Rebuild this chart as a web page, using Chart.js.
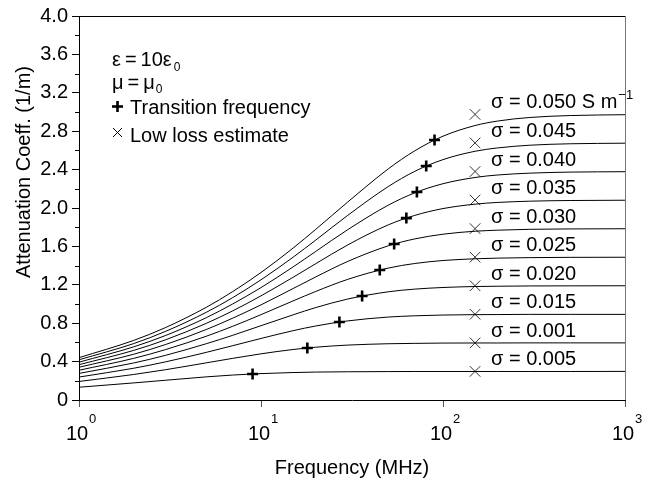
<!DOCTYPE html>
<html>
<head>
<meta charset="utf-8">
<script src="https://cdn.jsdelivr.net/npm/chart.js@4/dist/chart.umd.min.js"></script>
<style>
  html, body { margin: 0; padding: 0; background: #fff; }
</style>
</head>
<body>
<canvas id="chart" width="650" height="485"></canvas>
<script>
var freqs = [1, 2, 3, 5, 7, 10, 15, 20, 30, 50, 70, 100, 150, 200, 300, 500, 1000];

// attenuation coefficient (1/m), one array per conductivity
var alpha005 = [0.133, 0.178, 0.206, 0.241, 0.260, 0.275, 0.286, 0.291, 0.294, 0.296, 0.297, 0.297, 0.297, 0.297, 0.297, 0.297, 0.298];
var alpha010 = [0.193, 0.266, 0.316, 0.387, 0.434, 0.481, 0.526, 0.550, 0.572, 0.586, 0.590, 0.593, 0.594, 0.594, 0.595, 0.595, 0.595];
var alpha015 = [0.239, 0.331, 0.398, 0.496, 0.566, 0.641, 0.722, 0.771, 0.824, 0.864, 0.877, 0.885, 0.889, 0.890, 0.892, 0.892, 0.892];
var alpha020 = [0.277, 0.386, 0.466, 0.586, 0.674, 0.774, 0.887, 0.963, 1.052, 1.127, 1.155, 1.172, 1.182, 1.185, 1.188, 1.189, 1.190];
var alpha025 = [0.310, 0.434, 0.526, 0.664, 0.768, 0.889, 1.032, 1.131, 1.257, 1.374, 1.422, 1.453, 1.471, 1.478, 1.483, 1.486, 1.487];
var alpha030 = [0.341, 0.477, 0.579, 0.734, 0.853, 0.991, 1.161, 1.282, 1.444, 1.606, 1.678, 1.727, 1.758, 1.769, 1.778, 1.782, 1.784];
var alpha035 = [0.368, 0.517, 0.628, 0.798, 0.929, 1.085, 1.278, 1.420, 1.616, 1.824, 1.923, 1.994, 2.040, 2.058, 2.071, 2.078, 2.081];
var alpha040 = [0.394, 0.554, 0.673, 0.857, 1.001, 1.171, 1.386, 1.548, 1.775, 2.029, 2.158, 2.253, 2.318, 2.344, 2.363, 2.374, 2.378];
var alpha045 = [0.419, 0.588, 0.716, 0.913, 1.067, 1.252, 1.487, 1.666, 1.924, 2.223, 2.382, 2.504, 2.591, 2.626, 2.654, 2.669, 2.675];
var alpha050 = [0.441, 0.621, 0.756, 0.965, 1.130, 1.328, 1.582, 1.778, 2.063, 2.407, 2.596, 2.748, 2.859, 2.906, 2.943, 2.963, 2.972];

var sigmaLabels = ['\u03c3 = 0.005', '\u03c3 = 0.001', '\u03c3 = 0.015', '\u03c3 = 0.020', '\u03c3 = 0.025',
  '\u03c3 = 0.030', '\u03c3 = 0.035', '\u03c3 = 0.040', '\u03c3 = 0.045', '\u03c3 = 0.050 S m'];

// transition frequency markers (+)
var transFreq = [8.99, 17.97, 26.96, 35.94, 44.93, 53.91, 62.90, 71.88, 80.87, 89.85];
var transAlpha = [0.271, 0.542, 0.812, 1.083, 1.354, 1.625, 1.895, 2.166, 2.437, 2.708];

// low loss estimate markers (x)
var lowLossFreq = 150;
var lowLossAlpha = [0.298, 0.595, 0.893, 1.190, 1.488, 1.785, 2.083, 2.380, 2.678, 2.975];

var xTicks = [1, 10, 100, 1000];
var xExponents = ['0', '1', '2', '3'];
var yTicks = [0, 0.4, 0.8, 1.2, 1.6, 2.0, 2.4, 2.8, 3.2, 3.6, 4.0];
var yMinor = [0.2, 0.6, 1.0, 1.4, 1.8, 2.2, 2.6, 3.0, 3.4, 3.8];

var FONT = "'Liberation Sans', Arial, Helvetica, sans-serif";
Chart.defaults.font.family = FONT;
Chart.defaults.color = '#000';

function pts(xs, ys) {
  return ys.map(function (y, i) {
    return { x: Array.isArray(xs) ? xs[i] : xs, y: y };
  });
}

var curves = [alpha005, alpha010, alpha015, alpha020, alpha025, alpha030, alpha035, alpha040, alpha045, alpha050];

var datasets = curves.map(function (s) {
  return {
    data: pts(freqs, s),
    borderColor: '#000',
    borderWidth: 1,
    pointRadius: 0,
    cubicInterpolationMode: 'monotone',
    fill: false
  };
});
datasets.push({
  data: pts(transFreq, transAlpha),
  showLine: false,
  pointStyle: 'cross',
  pointRadius: 5.5,
  pointBorderWidth: 2.6,
  pointBorderColor: '#000'
});
datasets.push({
  data: pts(lowLossFreq, lowLossAlpha),
  showLine: false,
  pointStyle: 'crossRot',
  pointRadius: 7.5,
  pointBorderWidth: 1,
  pointBorderColor: '#333'
});

function line(ctx, x1, y1, x2, y2) {
  ctx.beginPath();
  ctx.moveTo(x1, y1);
  ctx.lineTo(x2, y2);
  ctx.stroke();
}

var extras = {
  id: 'extras',
  afterDraw: function (chart) {
    var ctx = chart.ctx, a = chart.chartArea, xs = chart.scales.x, ys = chart.scales.y;
    ctx.save();

    // top and right frame
    ctx.lineWidth = 1;
    ctx.strokeStyle = '#000';
    line(ctx, a.left, a.top + 0.5, a.right, a.top + 0.5);
    ctx.strokeStyle = '#777';
    line(ctx, a.right + 0.5, a.top, a.right + 0.5, a.bottom);

    // minor y ticks
    ctx.strokeStyle = '#000';
    yMinor.forEach(function (v) {
      var y = Math.round(ys.getPixelForValue(v)) + 0.5;
      line(ctx, a.left - 4, y, a.left, y);
    });

    // x tick labels 10^n
    ctx.fillStyle = '#000';
    ctx.textBaseline = 'alphabetic';
    xs.ticks.forEach(function (t, i) {
      var x = xs.getPixelForValue(t.value) - 2;
      ctx.font = '20px ' + FONT;
      ctx.textAlign = 'center';
      ctx.fillText('10', x, 440);
      var w = ctx.measureText('10').width;
      ctx.font = '13px ' + FONT;
      ctx.textAlign = 'left';
      ctx.fillText(xExponents[i], x + w / 2 + 1, 423);
    });

    // y axis title
    ctx.save();
    ctx.translate(24, 172);
    ctx.rotate(-Math.PI / 2);
    ctx.font = '20px ' + FONT;
    ctx.textAlign = 'center';
    ctx.textBaseline = 'middle';
    ctx.fillText('Attenuation Coeff. (1/m)', 0, 0);
    ctx.restore();

    // annotation block
    ctx.textAlign = 'left';
    ctx.textBaseline = 'alphabetic';
    ctx.font = '20px ' + FONT;
    var t1 = '\u03b5\u2009=\u200910\u03b5';
    ctx.fillText(t1, 112, 66);
    var w1 = ctx.measureText(t1).width;
    var t2 = '\u03bc\u2009=\u2009\u03bc';
    ctx.fillText(t2, 112, 89);
    var w2 = ctx.measureText(t2).width;
    ctx.fillText('Transition frequency', 130, 114);
    ctx.fillText('Low loss estimate', 130, 142);
    ctx.font = '12px ' + FONT;
    ctx.fillText('0', 112 + w1 + 2, 71);
    ctx.fillText('0', 112 + w2 + 1, 93);

    ctx.strokeStyle = '#000';
    ctx.lineWidth = 2.6;
    line(ctx, 112, 106.5, 123, 106.5);
    line(ctx, 117.5, 101, 117.5, 112);
    ctx.lineWidth = 1;
    line(ctx, 113, 128, 122, 137);
    line(ctx, 122, 128, 113, 137);

    // sigma labels
    ctx.font = '20px ' + FONT;
    ctx.textBaseline = 'middle';
    sigmaLabels.forEach(function (lab, i) {
      var y = ys.getPixelForValue(lowLossAlpha[i]) - 11.5;
      ctx.font = '20px ' + FONT;
      ctx.fillText(lab, 491, y);
      if (i === sigmaLabels.length - 1) {
        var w = ctx.measureText(lab).width;
        ctx.font = '13px ' + FONT;
        ctx.fillText('\u22121', 491 + w + 1, y - 7);
      }
    });

    ctx.restore();
  }
};

new Chart(document.getElementById('chart'), {
  type: 'line',
  data: { datasets: datasets },
  options: {
    responsive: false,
    animation: false,
    devicePixelRatio: 1,
    layout: { padding: { left: 0, right: 25, top: 14, bottom: 0 } },
    plugins: {
      legend: { display: false },
      tooltip: { enabled: false }
    },
    scales: {
      x: {
        type: 'logarithmic',
        min: 1,
        max: 1000,
        afterBuildTicks: function (scale) {
          scale.ticks = xTicks.map(function (v) { return { value: v, major: true }; });
        },
        afterFit: function (scale) { scale.height = 85; },
        ticks: { display: false },
        grid: { drawOnChartArea: false, tickLength: 7, tickColor: '#555' },
        border: { color: '#000', width: 1 },
        title: {
          display: true,
          text: 'Frequency (MHz)',
          font: { size: 20 },
          color: '#000',
          padding: { top: 0, bottom: 5 }
        }
      },
      y: {
        min: 0,
        max: 4,
        afterBuildTicks: function (scale) {
          scale.ticks = yTicks.map(function (v) { return { value: v }; });
        },
        afterFit: function (scale) { scale.width = 79; },
        ticks: {
          font: { size: 20 },
          color: '#000',
          padding: 4,
          callback: function (v) { return v === 0 ? '0' : v.toFixed(1); }
        },
        grid: { drawOnChartArea: false, tickLength: 7, tickColor: '#000' },
        border: { color: '#000', width: 1 }
      }
    }
  },
  plugins: [extras]
});
</script>
</body>
</html>
